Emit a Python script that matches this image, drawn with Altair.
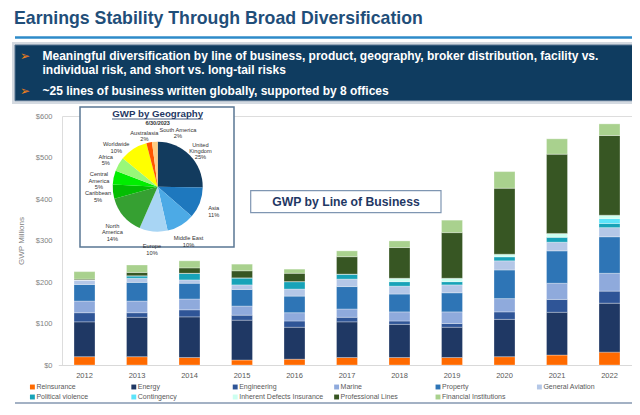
import altair as alt
import pandas as pd

# ---------------- data ----------------
years = ["2012", "2013", "2014", "2015", "2016", "2017", "2018", "2019", "2020", "2021", "2022"]
lines_of_business = ["Reinsurance", "Energy", "Engineering", "Marine", "Property", "General Aviation",
                     "Political violence", "Contingency", "Inherent Defects Insurance",
                     "Professional Lines", "Financial Institutions"]
lob_colors = ["#FF6A00", "#1F3864", "#2F5597", "#8FAADC", "#2E75B6", "#B4C7E7",
              "#17A3B8", "#5CE4FA", "#CCFFF0", "#375623", "#A9D18E"]

reinsurance = [20, 20, 18, 12, 14, 18, 18, 18, 20, 24, 31]
energy = [84, 95, 98, 96, 77, 86, 80, 73, 90, 103, 118]
engineering = [22, 11, 17, 12, 15, 11, 8, 9, 18, 31, 29]
marine = [28, 28, 26, 22, 20, 20, 22, 28, 32, 39, 43]
property_ = [40, 45, 38, 40, 40, 54, 43, 46, 69, 78, 88]
general_aviation = [11, 10, 8, 11, 17, 18, 19, 19, 22, 21, 22]
political_violence = [0, 6, 16, 17, 18, 12, 11, 8, 10, 12, 10]
contingency = [0, 0, 0, 0, 0, 0, 0, 0, 0, 0, 12]
inherent_defects = [0, 0, 0, 0, 0, 0, 8, 8, 6, 9, 8]
professional_lines = [2, 8, 13, 17, 20, 42, 74, 110, 159, 191, 192]
financial_institutions = [18, 18, 17, 16, 10, 14, 16, 30, 40, 37, 28]

y_ticks = [0, 100, 200, 300, 400, 500, 600]

geo_regions = ["United Kingdom", "Asia", "Middle East", "Europe", "North America", "Caribbean",
               "Central America", "Africa", "Worldwide", "Australasia", "South America"]
geo_share = [25, 11, 10, 10, 14, 5, 5, 5, 10, 2, 2]
geo_labels = ["United\nKingdom\n25%", "Asia\n11%", "Middle East\n10%", "Europe\n10%",
              "North\nAmerica\n14%", "Caribbean\n5%", "Central\nAmerica\n5%", "Africa\n5%",
              "Worldwide\n10%", "Australasia\n2%", "South America\n2%"]
geo_colors = ["#123B5E", "#1E78BE", "#4CAAE6", "#A8D5F4", "#36A032", "#03BD03",
              "#00EE00", "#98F878", "#FFFF00", "#FF5500", "#FFCC80"]

title_text = "Earnings Stability Through Broad Diversification"
bullets = ["Meaningful diversification by line of business, product, geography, broker distribution, facility vs.",
           "individual risk, and short vs. long-tail risks",
           "~25 lines of business written globally, supported by 8 offices"]
pie_title = "GWP by Geography"
pie_date = "6/30/2023"
lob_title = "GWP by Line of Business"
y_title = "GWP Millions"

# ---------------- tables ----------------
series = [reinsurance, energy, engineering, marine, property_, general_aviation,
          political_violence, contingency, inherent_defects, professional_lines, financial_institutions]
rows = []
for k, (name, vals) in enumerate(zip(lines_of_business, series)):
    for yr, v in zip(years, vals):
        rows.append({"year": yr, "line": name, "idx": k, "value": v})
bars_df = pd.DataFrame(rows)
pie_df = pd.DataFrame({"region": geo_regions, "share": geo_share, "label": geo_labels,
                       "idx": list(range(len(geo_regions)))})
legend_df = pd.DataFrame({"name": lines_of_business})
one = pd.DataFrame({"k": [0]})

FONT = "Liberation Sans"
lob_scale = alt.Scale(domain=lines_of_business, range=lob_colors)

# ---------------- main bars ----------------
bars = alt.Chart(bars_df).mark_bar(stroke="white", strokeWidth=0.3).encode(
    x=alt.X("year:O", sort=years,
            scale=alt.Scale(range=[-3.75, 573.75], paddingInner=0.6, paddingOuter=0.3),
            axis=alt.Axis(title=None, labelAngle=0, labelFontSize=7.5, labelColor="#595959",
                          labelFont=FONT, ticks=False, domainColor="#D9D9D9", labelPadding=6)),
    y=alt.Y("value:Q", stack="zero",
            scale=alt.Scale(domain=[0, 600], nice=False),
            axis=alt.Axis(values=y_ticks, labelExpr="'$' + datum.value", title=y_title,
                          titleFontSize=8, titleFontWeight="normal", titleColor="#7F7F7F",
                          titleFont=FONT, titlePadding=10,
                          labelFontSize=7.5, labelColor="#7F7F7F", labelFont=FONT,
                          labelPadding=10, ticks=False, domain=False, grid=False)),
    color=alt.Color("line:N", scale=lob_scale, legend=None),
    order=alt.Order("idx:Q", sort="ascending"),
)

# ---------------- header ----------------
def rect(x1, x2, y1, y2, **kw):
    return alt.Chart(one).mark_rect(**kw).encode(
        x=alt.value(x1), x2=alt.value(x2), y=alt.value(y1), y2=alt.value(y2))

def label(txt, x, y, **kw):
    return alt.Chart(pd.DataFrame({"t": [txt]})).mark_text(**kw).encode(
        text="t:N", x=alt.value(x), y=alt.value(y))

title = label(title_text, -48, -97, align="left", baseline="middle", fontSize=17.7,
              fontWeight="bold", color="#1F4E79", font=FONT)
blue_rule = alt.Chart(one).mark_rule(color="#2E8BC9", strokeWidth=2.5).encode(
    x=alt.value(-47), x2=alt.value(573), y=alt.value(-78.5))
shadow = rect(-50, 576, -74, -12, fill="#C9D1DA", opacity=0.8)
banner = rect(-47, 573, -71, -15.3, fill="#0F3C60", stroke="#55728F", strokeWidth=1)
BF = 12
b1 = label(bullets[0], -19.5, -60.3, align="left", baseline="middle", fontSize=BF,
           fontWeight="bold", color="white", font=FONT)
b2 = label(bullets[1], -19.5, -46, align="left", baseline="middle", fontSize=BF,
           fontWeight="bold", color="white", font=FONT)
b3 = label(bullets[2], -19.5, -25, align="left", baseline="middle", fontSize=BF,
           fontWeight="bold", color="white", font=FONT)
a1 = label("➢", -37, -60.3, align="center", baseline="middle", fontSize=12,
           color="#F07F1A", font="DejaVu Sans")
a3 = label("➢", -37, -25, align="center", baseline="middle", fontSize=12,
           color="#F07F1A", font="DejaVu Sans")

# ---------------- pie inset ----------------
pie_box = rect(18, 172, -9, 131, fill="white", stroke="#5A7794", strokeWidth=1.5)
pie_t = label(pie_title, 95.7, -2, align="center", baseline="middle", fontSize=9.7,
              fontWeight="bold", color="#1F3864", font=FONT)
pie_ul = alt.Chart(one).mark_rule(color="#1F3864", strokeWidth=0.8).encode(
    x=alt.value(50), x2=alt.value(141), y=alt.value(3))
pie_d = label(pie_date, 95.7, 7.3, align="center", baseline="middle", fontSize=5.5,
              fontWeight="bold", color="#333333", font=FONT)
pie_base = alt.Chart(pie_df).encode(
    theta=alt.Theta("share:Q", stack=True),
    order=alt.Order("idx:Q", sort="ascending"),
    x=alt.value(95.7), y=alt.value(70.7),
)
pie = pie_base.mark_arc(outerRadius=45).encode(
    color=alt.Color("region:N", scale=alt.Scale(domain=geo_regions, range=geo_colors), legend=None))

special = {"Worldwide": (-9, 8), "Australasia": (-2, 5), "South America": (24, 3)}
main_pred = " && ".join(f"datum.region != '{r}'" for r in special)
pie_lbl = pie_base.mark_text(radius=60, fontSize=5.7, lineBreak="\n", lineHeight=6.4,
                             align="center", baseline="middle", color="#333333", font=FONT).encode(
    text=alt.condition(main_pred, "label:N", alt.value("")))
pie_special = []
for r, (ddx, ddy) in special.items():
    pie_special.append(
        pie_base.mark_text(radius=60, fontSize=5.7, lineBreak="\n", lineHeight=6.4, dx=ddx, dy=ddy,
                           align="center", baseline="middle", color="#333333", font=FONT).encode(
            text=alt.condition(f"datum.region == '{r}'", "label:N", alt.value(""))))

# ---------------- LoB box ----------------
lob_box = rect(188.7, 379, 74.7, 96.7, fill="white", stroke="#7F96B2", strokeWidth=1.2)
lob_t = label(lob_title, 284, 86, align="center", baseline="middle", fontSize=12.2,
              fontWeight="bold", color="#1F3864", font=FONT)

# ---------------- legend ----------------
leg_base = alt.Chart(legend_df).transform_window(i="row_number()").transform_calculate(
    col="(datum.i - 1) % 6", row="floor((datum.i - 1) / 6)")
leg_x = alt.X("col:O", scale=alt.Scale(type="point", domain=[0, 1, 2, 3, 4, 5],
                                       range=[-29.6, 477.4], padding=0), axis=None)
leg_y = alt.Y("row:O", scale=alt.Scale(type="point", domain=[0, 1], range=[271, 281], padding=0),
              axis=None)
leg_sq = leg_base.mark_square(size=24, opacity=1).encode(
    x=leg_x, y=leg_y, color=alt.Color("name:N", scale=lob_scale, legend=None))
leg_tx = leg_base.mark_text(align="left", baseline="middle", dx=4, fontSize=7,
                            color="#595959", font=FONT).encode(x=leg_x, y=leg_y, text="name:N")

bottom_rule = alt.Chart(one).mark_rule(color="#8497B0", strokeWidth=1.5).encode(
    x=alt.value(-47), x2=alt.value(573), y=alt.value(287))

chart = alt.layer(
    bars, shadow, banner, blue_rule, title, b1, b2, b3, a1, a3,
    pie_box, pie, pie_lbl, *pie_special, pie_t, pie_ul, pie_d, lob_box, lob_t,
    leg_sq, leg_tx, bottom_rule,
).resolve_scale(
    x="independent", y="independent", color="independent", theta="independent"
).properties(
    width=570, height=249, autosize="none",
    padding={"left": 54, "top": 108, "right": 0, "bottom": 39},
).configure_view(stroke=None).configure(background="white")

chart.save("out.html", embed_options={"renderer": "svg", "actions": False})
